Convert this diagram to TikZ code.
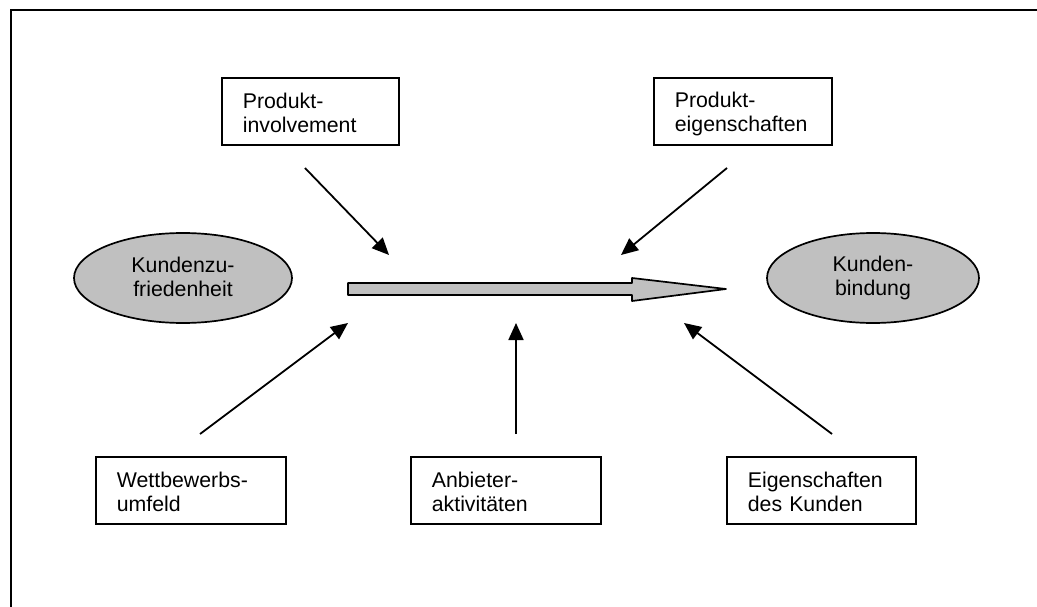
\documentclass[tikz,border=0pt]{standalone}
\usepackage{fontspec}
\setmainfont{Liberation Sans}
\usetikzlibrary{arrows.meta,shapes.geometric}
\definecolor{fillgray}{HTML}{C0C0C0}
\begin{document}
\begin{tikzpicture}[x=1pt,y=-1pt,
  every node/.style={font=\fontsize{21.3}{24}\selectfont},
  factor/.style={draw,line width=1.7pt,anchor=north west,inner xsep=21pt,inner ysep=0pt,
    minimum height=67pt,align=left,
    execute at begin node={\rule{0pt}{21pt}},
    execute at end node={\rule[-2pt]{0pt}{2pt}}},
  state/.style={ellipse,draw,line width=1.7pt,fill=fillgray,inner sep=0pt,
    minimum height=90pt,align=center,
    execute at begin node={\rule{0pt}{17pt}},
    execute at end node={\rule[-3pt]{0pt}{3pt}}},
  influence/.style={line width=1.8pt,-{Triangle[length=17pt,width=15pt]}}
]
\useasboundingbox (0,0) rectangle (1037,607);

% outer frame (open to the right and bottom)
\draw[line width=1.8pt] (11,640) -- (11,10) -- (1060,10);

% start and end states
\node[state,minimum width=218pt] (kz) at (183,278) {Kundenzu-\\friedenheit};
\node[state,minimum width=212pt] (kb) at (873,278) {Kunden-\\bindung};

% influencing factors
\node[factor,text width=135pt] (pi) at (221,77) {Produkt-\\involvement};
\node[factor,text width=136pt] (pe) at (653,77) {Produkt-\\eigenschaften};
\node[factor,text width=148pt] (wu) at (95,456) {Wettbewerbs-\\umfeld};
\node[factor,text width=148pt] (aa) at (410,456) {Anbieter-\\aktivitäten};
\node[factor,text width=147pt] (ek) at (726,456) {Eigenschaften\\des Kunden};

% main flow arrow
\draw[line width=1.7pt,line join=round,fill=fillgray]
  (348,283) -- (632,283) -- (632,278) -- (726,289) -- (632,301) -- (632,295) -- (348,295) -- cycle;

% connector end points
\coordinate (piS) at (305,168); \coordinate (piE) at (389,255);
\coordinate (peS) at (727,168); \coordinate (peE) at (621,255);
\coordinate (wuS) at (200,434); \coordinate (wuE) at (348,323);
\coordinate (aaS) at (516,434); \coordinate (aaE) at (516,323);
\coordinate (ekS) at (832,434); \coordinate (ekE) at (684,323);

\draw[influence] (piS) -- (piE);
\draw[influence] (peS) -- (peE);
\draw[influence] (wuS) -- (wuE);
\draw[influence] (aaS) -- (aaE);
\draw[influence] (ekS) -- (ekE);
\end{tikzpicture}
\end{document}
